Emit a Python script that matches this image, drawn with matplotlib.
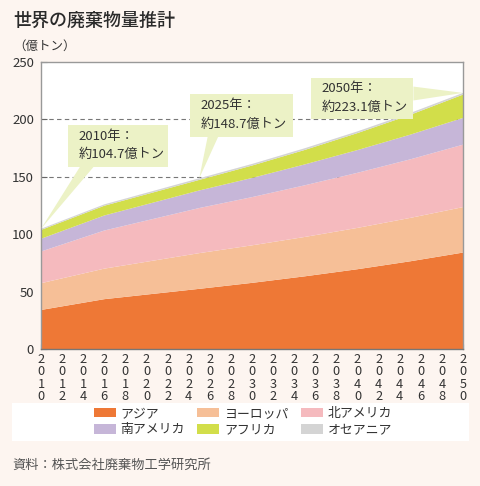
import numpy as np
import matplotlib.pyplot as plt
from matplotlib.patches import Rectangle, Polygon

plt.rcParams['font.family'] = ['Noto Sans CJK JP', 'DejaVu Sans']

# data (億トン)
years = [2010, 2016, 2025, 2030, 2035, 2040, 2045, 2050]
asia = [34.0, 43.4, 52.4, 57.6, 63.3, 69.5, 76.4, 84.0]
europe = [23.3, 26.6, 31.1, 32.7, 34.3, 36.0, 37.8, 39.6]
north_america = [27.6, 33.2, 39.3, 42.0, 45.0, 48.0, 51.0, 54.4]
south_america = [11.1, 13.1, 15.3, 16.7, 18.2, 19.8, 21.5, 23.3]
africa = [7.7, 8.5, 9.2, 10.8, 12.6, 14.8, 17.3, 20.3]
oceania = [1.0, 1.2, 1.4, 1.4, 1.5, 1.5, 1.6, 1.5]

labels = ['アジア', 'ヨーロッパ', '北アメリカ', '南アメリカ', 'アフリカ', 'オセアニア']
colors = ['#ee7836', '#f6bf97', '#f5babe', '#c6b6d8', '#d2de4a', '#d4d4d4']

callout_years = [2010, 2025, 2050]
callout_texts = ['2010年：\n約104.7億トン', '2025年：\n約148.7億トン', '2050年：\n約223.1億トン']

bg = '#fdf5f0'
box_col = '#ecf2c6'

fig = plt.figure(figsize=(4.81, 4.86), dpi=100, facecolor=bg)
ax = fig.add_axes([0.0852, 0.2819, 0.8774, 0.5905])
ax.set_facecolor('white')

series = [asia, europe, north_america, south_america, africa, oceania]
ax.stackplot(years, *series, colors=colors, labels=labels, zorder=2, linewidth=0)

ax.set_xlim(2010, 2050)
ax.set_ylim(0, 250)

# dashed grid only where visible
for yv in [150, 200]:
    ax.axhline(yv, color='#777777', linestyle=(0, (4, 3)), linewidth=0.8, zorder=1)

ax.set_yticks([0, 50, 100, 150, 200, 250])
ax.tick_params(axis='y', direction='in', length=4, color='#666666', labelsize=9.5,
               labelcolor='#333333', pad=5)
xt = list(range(2010, 2051))
ax.set_xticks(xt)
ax.set_xticklabels(['\n'.join(str(y)) if y % 2 == 0 else '' for y in xt],
                   linespacing=0.92)
ax.tick_params(axis='x', direction='in', length=3.5, color='#555555', labelsize=9.2,
               labelcolor='#333333', pad=3)
for s in ax.spines.values():
    s.set_color('#999999')
    s.set_linewidth(1.0)
ax.spines['bottom'].set_color('#777777')

# callouts
totals = np.sum(series, axis=0)
tot = dict(zip(years, totals))
boxes = {2010: (2012.6, 158.8, 9.4, 36.7), 2025: (2024.1, 185.0, 9.8, 37.5),
         2050: (2035.6, 200.7, 9.7, 35.8)}
pointers = {2010: [(2013.7, 158.8), (2015.0, 158.8)],
            2025: [(2025.8, 185.0), (2026.8, 185.0)],
            2050: [(2045.3, 228.6), (2045.3, 216.5)]}
for yr, txt in zip(callout_years, callout_texts):
    x0, y0, w, h = boxes[yr]
    tip = (yr, tot[yr])
    ax.add_patch(Polygon(pointers[yr] + [tip], closed=True, facecolor=box_col,
                         edgecolor='none', clip_on=False, zorder=4))
    ax.add_patch(Rectangle((x0, y0), w, h, facecolor=box_col, edgecolor='none',
                           clip_on=False, zorder=4))
    ax.text(x0 + 1.0, y0 + h / 2, txt, fontsize=9.5, color='#333333', va='center',
            ha='left', linespacing=1.55, zorder=5)

# titles
fig.text(0.027, 0.958, '世界の廃棄物量推計', fontsize=13, color='#2a2a2a', va='center',
         fontweight='medium')
fig.text(0.027, 0.905, '（億トン）', fontsize=9, color='#333333', va='center')
fig.text(0.025, 0.043, '資料：株式会社廃棄物工学研究所', fontsize=9.5, color='#555555',
         va='center')

# legend
fig.patches.append(Rectangle((0.025, 0.0926), 0.95, 0.0782, transform=fig.transFigure,
                             facecolor='white', edgecolor='none', zorder=0))
handles, labs = ax.get_legend_handles_labels()
order = [0, 3, 1, 4, 2, 5]
fig.legend([handles[i] for i in order], [labs[i] for i in order], ncol=3,
           loc='center', bbox_to_anchor=(0.505, 0.132), frameon=False, fontsize=9.3,
           handlelength=1.7, handleheight=0.75, handletextpad=0.35,
           columnspacing=1.0, labelspacing=0.25, labelcolor='#333333')

fig.savefig('out.png', dpi=100, facecolor=bg)
